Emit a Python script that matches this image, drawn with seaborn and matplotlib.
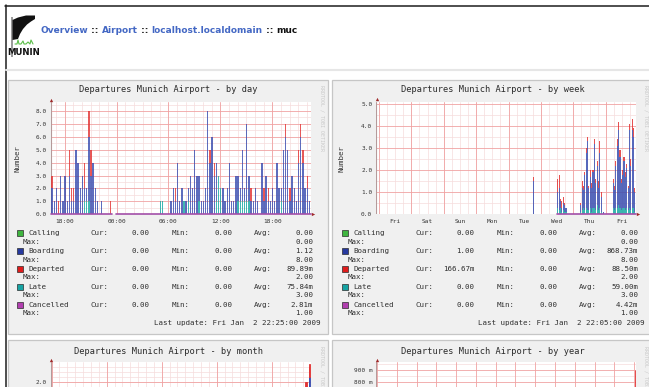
import numpy as np
import pandas as pd
import matplotlib
matplotlib.use("Agg")
import matplotlib.pyplot as plt
import seaborn as sns
from matplotlib.patches import Rectangle, Polygon
from matplotlib.lines import Line2D

W, H, DPI = 649, 387, 100
MONO = "DejaVu Sans Mono"

SERIES = ["Calling", "Boarding", "Departed", "Late", "Cancelled"]
KEY_COLORS = ["#3fb53f", "#26399f", "#e01c1c", "#17a4a4", "#b23fb0"]
BAR_COLORS = {"Boarding": "#3a4db0", "Departed": "#e23434", "Late": "#17a9a3"}
CANCEL_COLOR = "#a24fa8"

# ---- by day: 15-minute bins, 30 hours up to Fri Jan 2 22:25 ----
day_bins = [0, 1, 2, 3, 4, 5, 6, 7, 8, 9, 10, 11, 12, 13, 14, 15, 16, 17, 18, 19,
            20, 21, 23, 27, 50, 51, 55, 56, 57, 58, 59, 60, 61, 62, 63, 64, 65, 66, 67, 68,
            69, 70, 71, 72, 73, 74, 75, 76, 77, 78, 79, 80, 81, 82, 83, 84, 85, 86, 87, 88,
            89, 90, 91, 92, 93, 94, 95, 97, 98, 99, 100, 101, 102, 103, 104, 105, 106, 107, 108, 109,
            110, 111, 112, 113, 114, 115, 116, 117, 118, 119]
day_boarding = [2, 1, 2, 0, 3, 1, 3, 1, 3, 1, 1, 5, 4, 2, 3, 1, 1, 5, 3, 4,
                2, 1, 1, 0, 0, 0, 1, 2, 1, 4, 1, 2, 0, 1, 1, 3, 2, 5, 3, 2,
                1, 1, 2, 8, 4, 6, 3, 3, 0, 0, 2, 1, 2, 4, 1, 1, 3, 2, 1, 4,
                1, 6, 2, 1, 1, 2, 1, 4, 1, 3, 1, 1, 2, 1, 4, 2, 1, 5, 6, 5,
                1, 3, 2, 1, 4, 6, 4, 2, 2, 1]
day_departed = [1, 0, 0, 1, 0, 0, 0, 0, 2, 1, 1, 0, 0, 0, 0, 2, 0, 2, 2, 0,
                0, 0, 0, 1, 0, 0, 0, 0, 1, 0, 0, 0, 0, 0, 0, 0, 0, 0, 0, 0,
                0, 0, 0, 0, 1, 0, 1, 0, 0, 0, 0, 0, 0, 0, 0, 0, 0, 0, 0, 0,
                0, 0, 0, 1, 0, 0, 0, 0, 1, 0, 1, 0, 0, 0, 0, 0, 0, 0, 1, 0,
                1, 0, 0, 0, 1, 1, 1, 0, 1, 0]
day_late = [0, 0, 0, 0, 0, 0, 0, 0, 0, 0, 0, 0, 0, 0, 0, 1, 1, 1, 0, 0,
            0, 0, 0, 0, 1, 1, 0, 0, 0, 0, 0, 0, 1, 0, 1, 0, 0, 0, 0, 1,
            0, 0, 0, 0, 0, 0, 0, 1, 3, 2, 0, 0, 0, 0, 0, 0, 0, 1, 1, 1,
            1, 1, 1, 0, 0, 0, 0, 0, 0, 0, 0, 0, 0, 0, 0, 0, 1, 0, 0, 0,
            0, 0, 0, 0, 0, 0, 0, 0, 0, 0]
day_known = [(0, 28), (30, 120)]
day_cur = ["0.00", "0.00", "0.00", "0.00", "0.00"]
day_min = ["0.00", "0.00", "0.00", "0.00", "0.00"]
day_avg = ["0.00", "1.12", "89.89m", "75.84m", "2.81m"]
day_max = ["0.00", "8.00", "2.00", "3.00", "1.00"]

# ---- by week: 1-hour bins, 8 days up to Fri Jan 2 22:05 ----
week_bins = [116, 134, 135, 136, 137, 138, 139, 140,
             151, 152, 153, 154, 155, 156, 157, 158, 159, 160, 161, 162, 163, 164, 165, 166, 168,
             175, 176, 177, 178, 179, 180, 181, 182, 183, 184, 185, 186, 187, 188, 189, 190, 191]
week_boarding = [1.5, 0.7, 1.0, 0.3, 0.2, 0.3, 0.3, 0.2,
                 0.3, 1.0, 0.8, 1.6, 2.5, 3.1, 1.0, 1.4, 1.1, 1.6, 2.9, 1.2, 1.8, 1.0, 2.5, 0.7, 0.1,
                 1.1, 0.9, 1.9, 2.8, 3.4, 2.3, 1.2, 1.5, 2.1, 1.5, 1.8, 1.0, 3.5, 2.0, 3.5, 3.2, 0.9]
week_departed = [0.2, 0.6, 0.6, 0.1, 0.3, 0.3, 0.1, 0.0,
                 0.1, 0.3, 0.2, 0.1, 0.2, 0.2, 0.1, 0.3, 0.2, 0.1, 0.2, 0.2, 0.2, 0.3, 0.5, 0.2, 0.0,
                 0.2, 0.2, 0.2, 0.3, 0.4, 0.3, 0.2, 0.2, 0.2, 0.2, 0.2, 0.1, 0.3, 0.3, 0.5, 0.4, 0.2]
week_late = [0.0, 0.3, 0.2, 0.3, 0.1, 0.2, 0.1, 0.1,
             0.1, 0.2, 0.3, 0.2, 0.3, 0.2, 0.2, 0.3, 0.1, 0.3, 0.3, 0.2, 0.4, 0.2, 0.3, 0.1, 0.0,
             0.3, 0.2, 0.3, 0.3, 0.4, 0.3, 0.2, 0.3, 0.3, 0.2, 0.3, 0.2, 0.3, 0.2, 0.3, 0.3, 0.1]
week_known = [(134, 192)]
week_cur = ["0.00", "1.00", "166.67m", "0.00", "0.00"]
week_min = ["0.00", "0.00", "0.00", "0.00", "0.00"]
week_avg = ["0.00", "868.73m", "88.50m", "59.00m", "4.42m"]
week_max = ["0.00", "8.00", "2.00", "3.00", "1.00"]

# ---- by month: 2-hour bins, 33 days ----
month_bins = [358, 367, 368, 369, 375, 376, 377, 378, 379, 380, 381, 382, 383,
              387, 388, 389, 390, 391, 392, 393, 394, 395]
month_boarding = [0.8, 0.8, 0.3, 0.2, 0.6, 1.2, 1.4, 1.1, 1.3, 1.5, 1.3, 1.4, 0.4,
                  1.0, 1.5, 1.6, 1.2, 1.4, 1.2, 1.9, 1.8, 1.0]
month_departed = [0.1, 0.5, 0.2, 0.1, 0.2, 0.1, 0.2, 0.2, 0.2, 0.2, 0.2, 0.3, 0.1,
                  0.2, 0.2, 0.2, 0.2, 0.2, 0.2, 0.2, 0.25, 0.2]
month_late = [0.0, 0.2, 0.2, 0.1, 0.2, 0.2, 0.3, 0.2, 0.2, 0.2, 0.3, 0.2, 0.1,
              0.3, 0.3, 0.2, 0.2, 0.3, 0.3, 0.2, 0.3, 0.2]

# ---- by year: 1-day bins, 400 days ----
year_bins = [396, 397, 398, 399]
year_boarding = [0.05, 0.15, 0.60, 0.70]
year_departed = [0.01, 0.04, 0.10, 0.14]
year_late = [0.00, 0.03, 0.05, 0.06]

sns.set_style("white")
fig = plt.figure(figsize=(W / DPI, H / DPI), dpi=DPI)
fig.patch.set_facecolor("white")


def fx(x):
    return x / W


def fy(y):
    return 1 - y / H


def ptext(x, y, s, **kw):
    return fig.text(fx(x), fy(y), s, **kw)


def add_axes_px(l, t, r, b):
    return fig.add_axes([fx(l), fy(b), (r - l) / W, (b - t) / H])


def hline_px(x0, x1, y, color, lw):
    fig.add_artist(Line2D([fx(x0), fx(x1)], [fy(y), fy(y)], color=color, lw=lw,
                          transform=fig.transFigure, zorder=-4))


def vline_px(x, y0, y1, color, lw):
    fig.add_artist(Line2D([fx(x), fx(x)], [fy(y0), fy(y1)], color=color, lw=lw,
                          transform=fig.transFigure, zorder=-4))


# page frame and header separator
hline_px(5, 649, 5.5, "#1e1e1e", 1.1)
vline_px(5.5, 5, 387, "#1e1e1e", 1.1)
hline_px(6, 649, 70, "#e6e6e6", 1.5)

# Munin logo
fig.add_artist(Rectangle((fx(11), fy(57)), 1.6 / W, 40 / H, transform=fig.transFigure,
                         fc="#9a9a9a", ec="none", zorder=1))
logo_pts = [(12.5, 20), (18, 17.5), (26, 15.5), (35, 15.5), (35, 19), (31, 21.5), (27, 24.5),
            (23, 29), (20, 34), (18, 39), (12.5, 40)]
fig.add_artist(Polygon([(fx(a), fy(b)) for a, b in logo_pts], closed=True,
                       transform=fig.transFigure, fc="#111111", ec="none", zorder=1))
gx = [15, 17, 18, 19, 21, 23, 24, 26, 28, 30, 31, 33]
gy = [44, 44, 40, 44, 44, 41, 44, 44, 42, 44, 40, 44]
fig.add_artist(Line2D([fx(v) for v in gx], [fy(v) for v in gy], color="#5cbf4a", lw=0.8,
                      transform=fig.transFigure, zorder=1))
ptext(23.5, 52.5, "MUNIN", family=["Liberation Sans Narrow", "DejaVu Sans"],
      fontweight="bold", fontsize=6.2, ha="center", va="center", color="#111111")

# breadcrumb header
LINK = "#4468c4"
crumbs = [("Overview", LINK), (" :: ", "#222222"), ("Airport", LINK), (" :: ", "#222222"),
          ("localhost.localdomain", LINK), (" :: ", "#222222"), ("muc", "#111111")]
renderer = fig.canvas.get_renderer()
probe = ptext(0, 0, "".join(s for s, _ in crumbs), fontsize=7, fontweight="bold",
              family="DejaVu Sans")
hfs = 7 * 256 / probe.get_window_extent(renderer).width
probe.remove()
xpos = 40.7
for s, c in crumbs:
    t = ptext(xpos, 33.3, s, fontsize=hfs, fontweight="bold", family="DejaVu Sans",
              color=c, va="baseline", ha="left")
    xpos += t.get_window_extent(renderer).width

# graph panels
for l, t, r, b in [(8, 80, 328, 334), (332, 80, 653, 334), (8, 340, 328, 400), (332, 340, 653, 400)]:
    fig.add_artist(Rectangle((fx(l), fy(b)), (r - l) / W, (b - t) / H, transform=fig.transFigure,
                             fc="#f0f0f0", ec="#c6c6c6", lw=0.9, zorder=-5))

MAJOR = "#f0a2a2"
MINOR = "#f5dcdc"


def setup_axes(ax, xlim, ylim, xmajor, xminor, ymajor, yminor, xticks, xlabels, yticks, ylabels):
    ax.set_facecolor("white")
    for sp in ax.spines.values():
        sp.set_visible(False)
    for v in xminor:
        ax.axvline(v, color=MINOR, lw=0.5, zorder=0)
    for v in yminor:
        ax.axhline(v, color=MINOR, lw=0.5, zorder=0)
    for v in xmajor:
        ax.axvline(v, color=MAJOR, lw=0.6, zorder=0.5)
    for v in ymajor:
        ax.axhline(v, color=MAJOR, lw=0.6, zorder=0.5)
    ax.axvline(xlim[0], color="#b59a9a", lw=0.8, zorder=1)
    ax.axhline(0, color="#c4a8c0", lw=0.6, zorder=1)
    ax.set_xlim(*xlim)
    ax.set_ylim(*ylim)
    ax.set_xticks(xticks, xlabels)
    ax.set_yticks(yticks, ylabels)
    ax.tick_params(length=0, labelsize=4.4, labelcolor="#333333")
    ax.tick_params(axis="x", pad=3.2)
    ax.tick_params(axis="y", pad=2.9)
    for lab in ax.get_xticklabels() + ax.get_yticklabels():
        lab.set_fontfamily(MONO)
    ax.set_xlabel("")
    ax.set_ylabel("")


def stacked_bars(ax, edges, bins_idx, boarding, departed, late, shrink, alpha, solid=False):
    width = edges[1] - edges[0]
    centers = [edges[0] + (b + 0.5) * width for b in bins_idx]
    n = len(centers)
    df = pd.DataFrame({
        "x": centers * 3,
        "series": ["Boarding"] * n + ["Departed"] * n + ["Late"] * n,
        "value": list(boarding) + list(departed) + list(late),
    })
    before = len(ax.patches)
    sns.histplot(data=df, x="x", weights="value", hue="series",
                 hue_order=["Departed", "Boarding", "Late"], palette=BAR_COLORS,
                 bins=[float(e) for e in edges], multiple="stack", element="bars",
                 shrink=shrink, linewidth=0, alpha=alpha, legend=False, ax=ax)
    if solid:
        for p in ax.patches[before:]:
            p.set_edgecolor(p.get_facecolor())
            p.set_linewidth(0.7)
    for p in ax.patches[before:]:
        p.set_zorder(2)
    ax.set_xlabel("")
    ax.set_ylabel("")


def cancelled_line(ax, edges, known):
    rows = []
    for seg, (a, b) in enumerate(known):
        rows.append({"x": edges[a], "value": 0.0, "seg": seg})
        rows.append({"x": edges[b], "value": 0.0, "seg": seg})
    cdf = pd.DataFrame(rows)
    sns.lineplot(data=cdf, x="x", y="value", units="seg", estimator=None,
                 color=CANCEL_COLOR, lw=1.2, ax=ax, zorder=3, clip_on=False)
    ax.set_xlabel("")
    ax.set_ylabel("")


def arrows(x_top, y_top, x_right, y_right):
    fig.add_artist(Line2D([fx(x_top)], [fy(y_top)], marker="^", ms=2.4, color="#a02a2a",
                          mec="none", transform=fig.transFigure, zorder=6))
    if x_right is not None:
        fig.add_artist(Line2D([fx(x_right)], [fy(y_right)], marker=">", ms=2.4, color="#a02a2a",
                              mec="none", transform=fig.transFigure, zorder=6))


def panel_texts(dx, title, top):
    ptext(168.5 + dx, top + 10, title, family=MONO, fontsize=6.2, color="#2a2a2a",
          ha="center", va="center")
    ptext(321.5 + dx, top + 5, "RRDTOOL / TOBI OETIKER", family=MONO, fontsize=3.6,
          color="#c9c9c9", rotation=270, ha="center", va="top")


def legend_block(dx, cur, mn, avg, mx, updated):
    kw = dict(family=MONO, fontsize=5.4, color="#303030", va="center")
    for i, name in enumerate(SERIES):
        y = 233.3 + 17.9 * i
        fig.add_artist(Rectangle((fx(17.3 + dx), fy(y + 3)), 6 / W, 6 / H,
                                 transform=fig.transFigure, fc=KEY_COLORS[i], ec="#2c2c2c",
                                 lw=0.5, zorder=3))
        ptext(28.3 + dx, y, name, ha="left", **kw)
        ptext(90.7 + dx, y, "Cur:", ha="left", **kw)
        ptext(149.3 + dx, y, cur[i], ha="right", **kw)
        ptext(171.7 + dx, y, "Min:", ha="left", **kw)
        ptext(232.3 + dx, y, mn[i], ha="right", **kw)
        ptext(254 + dx, y, "Avg:", ha="left", **kw)
        ptext(313.3 + dx, y, avg[i], ha="right", **kw)
        ptext(22.7 + dx, y + 8.3, "Max:", ha="left", **kw)
        ptext(313.3 + dx, y + 8.3, mx[i], ha="right", **kw)
    ptext(320 + dx, 322.7, "Last update: " + updated, ha="right", **kw)


# ================= by day =================
d_start = pd.Timestamp("2009-01-01 16:25")
d_end = d_start + pd.Timedelta(hours=30)
hours = pd.date_range(d_start.ceil("h"), d_end, freq="h")
d_pos = [(t - d_start) / pd.Timedelta(hours=1) for t in hours]
d_major = [p for p, t in zip(d_pos, hours) if t.hour % 6 == 0]
d_labels = [t.strftime("%H:%M") for t in hours if t.hour % 6 == 0]
day_edges = np.linspace(0, 30, 121)

ax_day = add_axes_px(51, 102, 310.5, 214.3)
setup_axes(ax_day, (0, 30), (0, 8.70), d_major, d_pos, np.arange(1, 9), np.arange(0.5, 8.6, 1.0),
           d_major, d_labels, np.arange(0, 9), [f"{v:.1f}" for v in range(9)])
stacked_bars(ax_day, day_edges, day_bins, day_boarding, day_departed, day_late, 0.62, 0.82)
cancelled_line(ax_day, day_edges, day_known)
ax_day.set_xlim(0, 30)
ax_day.set_ylim(0, 8.70)
arrows(51.5, 99.5, 313, 214.3)
panel_texts(0, "Departures Munich Airport - by day", 80)
ptext(18, 158, "Number", family=MONO, fontsize=5.3, rotation=90, ha="center", va="center",
      color="#303030")
legend_block(0, day_cur, day_min, day_avg, day_max, "Fri Jan  2 22:25:00 2009")

# ================= by week =================
w_start = pd.Timestamp("2008-12-25 22:05")
w_end = w_start + pd.Timedelta(days=8)
six = pd.date_range(w_start.ceil("6h"), w_end, freq="6h")
w_pos = [(t - w_start) / pd.Timedelta(hours=1) for t in six]
w_major = [p for p, t in zip(w_pos, six) if t.hour == 0]
noons = [t for t in six if t.hour == 12]
w_lpos = [(t - w_start) / pd.Timedelta(hours=1) for t in noons]
w_labels = [t.strftime("%a") for t in noons]
week_edges = np.arange(0, 193, 1.0)

ax_week = add_axes_px(376.4, 102, 635.5, 214.3)
setup_axes(ax_week, (0, 192), (0, 5.09), w_major, w_pos, np.arange(1, 6), np.arange(0.5, 5.0, 1.0),
           w_lpos, w_labels, np.arange(0, 6), [f"{v:.1f}" for v in range(6)])
stacked_bars(ax_week, week_edges, week_bins, week_boarding, week_departed, week_late, 0.8, 0.85)
cancelled_line(ax_week, week_edges, week_known)
ax_week.set_xlim(0, 192)
ax_week.set_ylim(0, 5.09)
arrows(376.7, 98.5, 638, 214.3)
panel_texts(324, "Departures Munich Airport - by week", 80)
ptext(342, 158, "Number", family=MONO, fontsize=5.3, rotation=90, ha="center", va="center",
      color="#303030")
legend_block(325, week_cur, week_min, week_avg, week_max, "Fri Jan  2 22:05:00 2009")

# ================= by month =================
m_start = pd.Timestamp("2008-11-30 22:05")
m_end = m_start + pd.Timedelta(days=33)
days = pd.date_range(m_start.ceil("D"), m_end, freq="D")
m_pos = [(t - m_start) / pd.Timedelta(days=1) for t in days]
m_major = [p for p, t in zip(m_pos, days) if t.dayofweek == 0]
month_edges = np.arange(0, 397) / 12.0

ax_month = add_axes_px(51, 362, 310.5, 482)
setup_axes(ax_month, (0, 33), (0, 2.4), m_major, m_pos, [0.5, 1.0, 1.5, 2.0],
           np.arange(0.1, 2.4, 0.1), [], [], [2.0], ["2.0"])
stacked_bars(ax_month, month_edges, month_bins, month_boarding, month_departed, month_late, 1.0,
             0.9, solid=True)
ax_month.set_xlim(0, 33)
ax_month.set_ylim(0, 2.4)
arrows(51.5, 359.5, None, None)
panel_texts(0, "Departures Munich Airport - by month", 341)

# ================= by year =================
y_start = pd.Timestamp("2007-11-29 22:05")
y_end = y_start + pd.Timedelta(days=400)
months = pd.date_range(y_start.ceil("D"), y_end, freq="MS")
y_pos = [(t - y_start) / pd.Timedelta(days=1) for t in months]
year_edges = np.arange(0, 401, 1.0)
ylevels = np.round(np.arange(0.1, 0.95, 0.1), 2)
ylab_levels = [0.8, 0.9]

ax_year = add_axes_px(376.4, 362, 635.5, 477.5)
setup_axes(ax_year, (0, 400), (0, 0.967), y_pos, [], ylevels, np.arange(0.05, 0.96, 0.1),
           [], [], ylab_levels, [f"{int(round(v * 1000))} m" for v in ylab_levels])
stacked_bars(ax_year, year_edges, year_bins, year_boarding, year_departed, year_late, 1.0,
             0.9, solid=True)
ax_year.set_xlim(0, 400)
ax_year.set_ylim(0, 0.967)
arrows(376.7, 359.5, None, None)
panel_texts(324, "Departures Munich Airport - by year", 341)

fig.savefig("out.png", dpi=DPI, facecolor="white")
